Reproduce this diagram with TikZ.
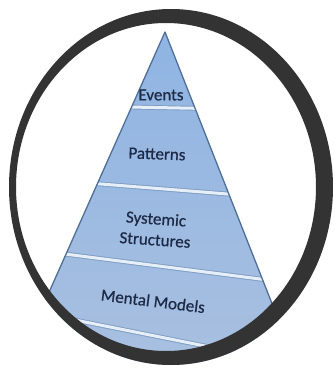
\documentclass[tikz,border=0pt]{standalone}
\usepackage{fontspec}
\setmainfont{Carlito}
\newfontfamily\lblfont{Carlito}[BoldFont={Carlito}, BoldFeatures={FakeBold=0.6}]
\definecolor{ringc}{HTML}{333333}
\definecolor{pyrtop}{HTML}{8FB4E3}
\definecolor{pyrbot}{HTML}{A9C0E0}
\definecolor{sepline}{HTML}{7E9CC2}
\definecolor{sepfill}{HTML}{E6EEF7}
\definecolor{edgec}{HTML}{4F6F96}
\definecolor{textc}{HTML}{1C2A45}
\tikzset{
  lbl/.style={text=textc, font=\lblfont\bfseries\fontsize{17}{20}\selectfont, inner sep=0pt, align=center},
  sepl/.style={draw=sepline, line width=0.9pt, double=sepfill, double distance=3pt}
}
\begin{document}
\begin{tikzpicture}[x=1pt,y=-1pt]
\useasboundingbox (0,0) rectangle (335,370);
% pyramid corners
\coordinate (apex) at (165,32);
\coordinate (bl) at (1,400);
\coordinate (br) at (310,400);
\begin{scope}
  \clip (171,187) ellipse [x radius=162, y radius=178];
  \begin{scope}
    \clip (apex) -- (br) -- (bl) -- cycle;
    \shade[top color=pyrtop, bottom color=pyrbot] (0,30) rectangle (335,370);
    \draw[sepl] (0,104.5) -- (335,111);
    \draw[sepl] (0,176) -- (335,202.5);
    \draw[sepl] (0,245.7) -- (335,288.6);
    \draw[sepl] (0,305) -- (335,372);
  \end{scope}
  \draw[edgec, line width=1.3pt, line join=round] (bl) -- (apex) -- (br);
\end{scope}
% labels
\node[lbl] (events) at (161,95) {Events};
\node[lbl, rotate=-2] (patterns) at (157,154) {Patterns};
\node[lbl, rotate=-4] (systemic) at (156,220) {Systemic};
\node[lbl, rotate=-4] (structures) at (155,240) {Structures};
\node[lbl, rotate=-7] (mental) at (153,301) {Mental Models};
% ring
\fill[ringc, even odd rule] (171,187) ellipse [x radius=162, y radius=178]
  (166,187) ellipse [x radius=150, y radius=164];
\end{tikzpicture}
\end{document}
